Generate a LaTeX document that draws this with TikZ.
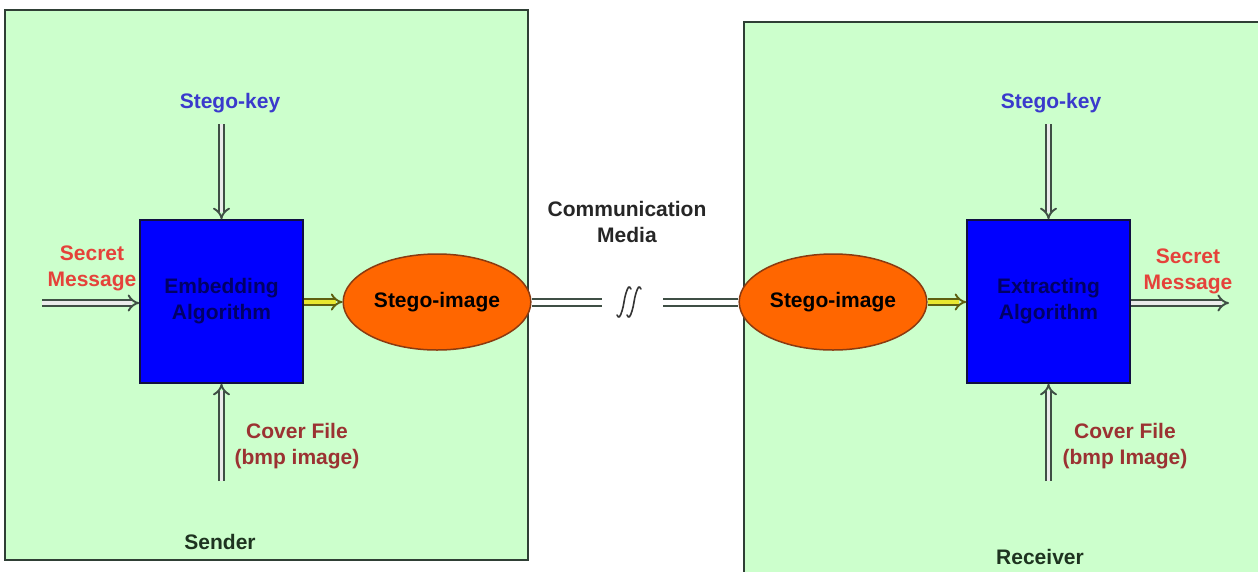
\documentclass[tikz,border=0pt]{standalone}
\usepackage{fontspec}
\setmainfont{Liberation Sans}
\usetikzlibrary{arrows.meta,shapes.geometric}
\definecolor{panelfill}{HTML}{CCFFCC}
\definecolor{paneledge}{HTML}{2F3F35}
\definecolor{algfill}{HTML}{0000FF}
\definecolor{algedge}{HTML}{101040}
\definecolor{algtext}{HTML}{000066}
\definecolor{stegofill}{HTML}{FF6600}
\definecolor{stegoedge}{HTML}{8A3A10}
\definecolor{keyblue}{HTML}{3A3ACC}
\definecolor{secretred}{HTML}{E5423A}
\definecolor{coverred}{HTML}{9B3232}
\definecolor{sidegreen}{HTML}{1E3320}
\definecolor{arrowgray}{HTML}{3F4F45}
\definecolor{arrowolive}{HTML}{5F6010}
\definecolor{arrowyellow}{HTML}{E8E830}
\tikzset{
  panel/.style={fill=panelfill, draw=paneledge, line width=2pt},
  algbox/.style={rectangle, fill=algfill, draw=algedge, line width=1.5pt,
    minimum width=163pt, minimum height=163pt, text=algtext, align=center},
  stego/.style={ellipse, fill=stegofill, draw=stegoedge, line width=1.5pt,
    minimum width=180pt, minimum height=96pt, text=black},
  lbl/.style={align=center, inner sep=0pt},
  hollow/.style={draw=arrowgray, line width=1.9pt, double=white!92!black,
    double distance=3.8pt, -{Implies}},
  yellowarrow/.style={draw=arrowolive, line width=1.9pt, double=arrowyellow,
    double distance=3.8pt, -{Implies}},
  medialine/.style={draw=arrowgray, line width=2pt, double=white, double distance=5pt},
  breakmark/.style={draw=black!80, line width=1.6pt, line cap=round}
}
\begin{document}
\begin{tikzpicture}[x=1pt, y=-1pt, font=\fontsize{21}{26}\selectfont\bfseries]
\useasboundingbox (0,0) rectangle (1258,571);
\clip (0,0) rectangle (1258,571);
\fill[white] (0,0) rectangle (1258,571);

% sender and receiver panels
\draw[panel] (5,10) rectangle (528,560);
\draw[panel] (744,22) rectangle (1275,590);

% ---- sender side ----
\node[algbox] (emb) at (221.5,301.5) {Embedding\\Algorithm};
\node[stego] (stegoL) at (437,302) {Stego-image};
\node[lbl, text=keyblue] (keyL) at (230,103) {Stego-key};
\node[lbl, text=secretred] (secL) at (92,268) {Secret\\Message};
\node[lbl, text=coverred] (covL) at (297,446) {Cover File\\(bmp image)};
\node[lbl, text=sidegreen] (sender) at (220,542) {Sender};
\coordinate (keyLin) at (221.5,124);
\coordinate (secLin) at (42,303);
\coordinate (covLin) at (221.5,481);

\draw[hollow] (keyLin) -- (emb.north);
\draw[hollow] (secLin) -- (secLin -| emb.west);
\draw[hollow] (covLin) -- (emb.south);
\draw[yellowarrow] (emb.east |- stegoL.west) -- (stegoL.west);

% ---- communication channel ----
\node[lbl, text=black!85] (media) at (627,222) {Communication\\Media};
\coordinate (brkL) at (602,302);
\coordinate (brkR) at (663,302);
\coordinate (brk) at (632,302);
% break mark: two slanted integral-like strokes
\foreach \dx in {-6,4} {
  \draw[breakmark] (brk) ++({\dx-9},13)
    .. controls +(2,4) and +(-2,6) .. ++(5,-4)
    .. controls +(2,-6) and +(-2,6) .. ++(4,-18)
    .. controls +(2,-6) and +(-2,-4) .. ++(5,-4);
}

% ---- receiver side ----
\node[algbox] (ext) at (1048.5,301.5) {Extracting\\Algorithm};
\node[stego] (stegoR) at (833,302) {Stego-image};
\node[lbl, text=keyblue] (keyR) at (1051,103) {Stego-key};
\node[lbl, text=secretred] (secR) at (1188,271) {Secret\\Message};
\node[lbl, text=coverred] (covR) at (1125,446) {Cover File\\(bmp Image)};
\node[lbl, text=sidegreen] (receiver) at (1040,557) {Receiver};
\coordinate (keyRin) at (1048.5,124);
\coordinate (secRout) at (1229,303);
\coordinate (covRin) at (1048.5,481);

\draw[medialine] (stegoL.east) -- (brkL);
\draw[medialine] (brkR) -- (stegoR.west);

\draw[hollow] (keyRin) -- (ext.north);
\draw[hollow] (covRin) -- (ext.south);
\draw[yellowarrow] (stegoR.east) -- (stegoR.east -| ext.west);
\draw[hollow] (secRout -| ext.east) -- (secRout);
\end{tikzpicture}
\end{document}
